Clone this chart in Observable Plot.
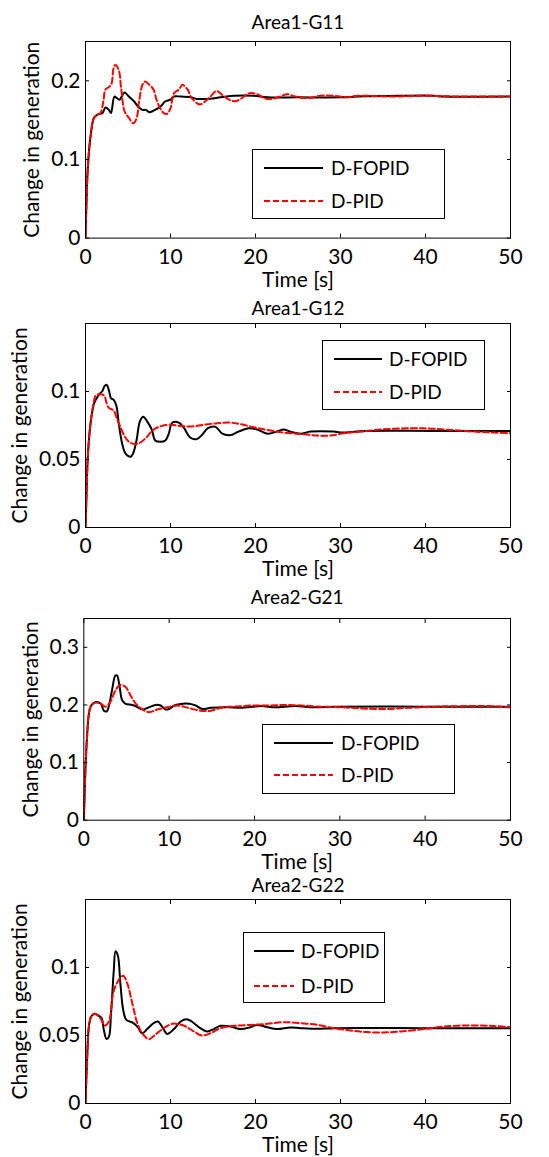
<!DOCTYPE html>
<html><head><meta charset="utf-8">
<script src="https://cdn.jsdelivr.net/npm/d3@7"></script>
<script src="https://cdn.jsdelivr.net/npm/@observablehq/plot@0.6"></script>
<style>
body{margin:0;background:#fff;font-family:Lato,sans-serif;}
#root{position:relative;width:549px;height:1157px;overflow:hidden;background:#fff;}
.pl{position:absolute;left:0;}
.leg{position:absolute;box-sizing:border-box;border:1.5px solid #000;background:#fff;}
.leg span{position:absolute;font-size:19px;line-height:1;color:#000;transform:translateY(-52%);white-space:nowrap;font-family:Lato,sans-serif}
.leg svg{position:absolute;left:0;top:0;overflow:visible}
</style></head><body><div id="root"></div>
<script>
const seriesNames = ["D-FOPID", "D-PID"];
const seriesColors = ["#000000", "#ff0000"];
const seriesDash = [null, "6,3"];
const xTicks = [0, 10, 20, 30, 40, 50];
const panelTitles = ["Area1-G11", "Area1-G12", "Area2-G21", "Area2-G22"];
const yDomains = [[0, 0.25], [0, 0.15], [0, 0.35], [0, 0.15]];
const yTicks = [[0, 0.1, 0.2], [0, 0.05, 0.1], [0, 0.1, 0.2, 0.3], [0, 0.05, 0.1]];

// [time s, change in generation]
const g11Fopid = [[0,0],[0.1,0.04],[0.27,0.089],[0.6,0.13],[1.0,0.153],[1.4,0.157],[2.0,0.159],[2.35,0.166],[2.75,0.163],[3.0,0.159],[3.4,0.18],[3.7,0.178],[4.0,0.176],[4.6,0.185],[5.1,0.18],[5.7,0.174],[6.2,0.167],[6.7,0.163],[7.1,0.163],[7.5,0.16],[8.0,0.162],[8.8,0.167],[9.4,0.174],[10,0.176],[10.4,0.18],[11.2,0.18],[12.4,0.179],[13.1,0.177],[14.3,0.177],[15.9,0.179],[17.5,0.181],[19.8,0.181],[21.4,0.179],[25,0.179],[30,0.179],[32,0.18],[37,0.181],[41,0.181],[42,0.18],[50,0.18]];
const g11Pid = [[0,0],[0.1,0.04],[0.27,0.089],[0.6,0.13],[1.0,0.153],[1.4,0.157],[1.76,0.159],[2.1,0.174],[2.35,0.189],[2.75,0.192],[3.05,0.196],[3.3,0.216],[3.5,0.22],[3.9,0.214],[4.2,0.19],[4.6,0.161],[5.1,0.153],[5.6,0.146],[6.0,0.152],[6.3,0.174],[6.7,0.195],[7.0,0.199],[7.5,0.195],[8.0,0.189],[8.35,0.176],[8.75,0.166],[9.2,0.159],[9.6,0.158],[10.0,0.165],[10.4,0.184],[11.0,0.189],[11.4,0.195],[12.0,0.189],[12.5,0.178],[13.45,0.170],[14.1,0.174],[14.7,0.18],[15.4,0.187],[16.1,0.182],[16.9,0.176],[17.6,0.174],[18.4,0.178],[19.2,0.184],[20.2,0.183],[21.0,0.178],[22.0,0.177],[23.1,0.181],[23.7,0.183],[24.7,0.18],[26.1,0.178],[27.6,0.181],[29.2,0.181],[30.8,0.179],[32.0,0.181],[36,0.18],[40,0.181],[44,0.18],[50,0.18]];
const g12Fopid = [[0,0],[0.1,0.02],[0.27,0.052],[0.6,0.077],[1.0,0.091],[1.4,0.096],[1.76,0.099],[1.96,0.1],[2.24,0.104],[2.47,0.105],[2.75,0.101],[3.0,0.095],[3.3,0.094],[3.65,0.089],[3.9,0.077],[4.3,0.062],[4.7,0.0545],[5.3,0.052],[5.6,0.0545],[6.0,0.064],[6.4,0.078],[6.8,0.0815],[7.25,0.078],[7.8,0.072],[8.2,0.064],[8.8,0.063],[9.4,0.064],[9.8,0.069],[10.2,0.077],[11.0,0.077],[11.6,0.073],[12.35,0.066],[13.1,0.065],[13.7,0.068],[14.4,0.073],[15.3,0.074],[16.1,0.069],[17.1,0.068],[18.0,0.0705],[19.2,0.073],[20.2,0.072],[21.4,0.069],[22.5,0.0705],[23.3,0.072],[24.1,0.0705],[25.3,0.069],[26.5,0.0705],[29.2,0.0705],[30.0,0.0698],[33.1,0.071],[41,0.071],[50,0.071]];
const g12Pid = [[0,0],[0.1,0.02],[0.27,0.052],[0.6,0.077],[1.0,0.093],[1.2,0.097],[1.76,0.098],[2.2,0.097],[2.5,0.091],[2.75,0.088],[3.3,0.086],[3.7,0.080],[4.1,0.074],[4.6,0.067],[5.1,0.063],[5.7,0.0615],[6.3,0.062],[7.05,0.0655],[8.0,0.072],[9.0,0.0747],[10,0.0755],[11.2,0.0747],[12.35,0.0742],[13.9,0.0755],[15.5,0.0767],[16.9,0.0772],[18.2,0.076],[19.8,0.0737],[21.4,0.0717],[23.3,0.0698],[25.3,0.0688],[27.3,0.0676],[28.8,0.0676],[30.4,0.0693],[32.4,0.0705],[35.1,0.0722],[38.2,0.073],[40.6,0.0727],[43,0.0717],[45.7,0.0705],[48,0.0698],[50,0.0693]];
const g21Fopid = [[0,0],[0.2,0.092],[0.4,0.15],[0.6,0.185],[0.86,0.199],[1.4,0.205],[2.0,0.202],[2.35,0.19],[2.7,0.189],[2.9,0.196],[3.3,0.225],[3.7,0.251],[3.9,0.251],[4.2,0.231],[4.5,0.208],[4.9,0.202],[5.7,0.2],[6.3,0.196],[6.9,0.192],[7.65,0.196],[8.4,0.2],[9.0,0.199],[9.6,0.192],[10.0,0.193],[10.6,0.199],[11.6,0.202],[12.35,0.202],[13.1,0.199],[13.9,0.193],[14.9,0.195],[16.9,0.196],[18.4,0.195],[20.8,0.198],[22.4,0.196],[24.7,0.198],[27.1,0.196],[29.4,0.197],[40,0.197],[50,0.197]];
const g21Pid = [[0,0],[0.2,0.092],[0.4,0.15],[0.6,0.185],[0.86,0.199],[1.4,0.204],[2.0,0.202],[2.55,0.197],[3.1,0.205],[3.7,0.225],[4.3,0.235],[4.9,0.231],[5.5,0.216],[6.1,0.202],[6.9,0.192],[7.65,0.1875],[8.6,0.192],[9.8,0.196],[11.0,0.199],[12.2,0.195],[13.7,0.19],[14.9,0.19],[16.3,0.196],[17.6,0.197],[19.6,0.199],[21.6,0.199],[23.5,0.2],[25.5,0.199],[27.8,0.197],[30.2,0.196],[32.5,0.194],[35.3,0.193],[38,0.195],[41.2,0.197],[45.1,0.198],[47.5,0.198],[50,0.196]];
const g22Fopid = [[0,0],[0.2,0.0346],[0.4,0.0566],[0.67,0.064],[1.06,0.066],[1.57,0.0645],[1.9,0.0627],[2.16,0.054],[2.47,0.0475],[2.75,0.049],[3.0,0.066],[3.33,0.098],[3.53,0.112],[3.8,0.109],[4.1,0.0885],[4.43,0.069],[4.8,0.0615],[5.5,0.0596],[6.1,0.0566],[6.67,0.0517],[7.25,0.0547],[8.0,0.059],[8.5,0.0603],[9.0,0.0566],[9.6,0.0512],[10.4,0.0547],[11.2,0.0603],[11.9,0.062],[12.5,0.0603],[13.5,0.0554],[14.3,0.053],[15.1,0.0547],[15.9,0.0571],[17.1,0.0566],[18.2,0.0547],[19.4,0.0561],[20.2,0.0578],[21.4,0.0561],[22.5,0.0547],[24.1,0.0559],[25.3,0.0554],[27.3,0.0549],[29.2,0.0554],[40,0.0554],[50,0.0554]];
const g22Pid = [[0,0],[0.2,0.0346],[0.4,0.0566],[0.67,0.064],[1.06,0.066],[1.76,0.0627],[2.24,0.0573],[2.75,0.0603],[3.25,0.081],[3.8,0.0897],[4.43,0.0939],[4.9,0.0885],[5.5,0.0738],[6.1,0.059],[6.67,0.0517],[7.45,0.0473],[8.2,0.0505],[9.2,0.0554],[10.2,0.0586],[11.0,0.0583],[11.8,0.0566],[12.75,0.053],[13.7,0.05],[14.7,0.0517],[15.9,0.0554],[17.5,0.0571],[19.4,0.0578],[21.4,0.0586],[23.3,0.0598],[25.3,0.0591],[27.3,0.0578],[29.2,0.0554],[31.2,0.0537],[33.1,0.0525],[35.1,0.0522],[37.1,0.053],[39.8,0.0547],[42.2,0.0566],[44.9,0.0574],[47.6,0.0571],[50,0.0561]];

const panelSeries = [[g11Fopid, g11Pid], [g12Fopid, g12Pid], [g21Fopid, g21Pid], [g22Fopid, g22Pid]];

// layout (pixels)
const layout = [
  {top: 40.7, bottom: 237.3, left: 85, titleDy: -19, yLabelDx: -53, leg: {x: 252, y: 149, w: 193, h: 70, l1: 11, l2: 70, tx: 78, r1: 18, r2: 51}},
  {top: 323.3, bottom: 527.3, left: 85, titleDy: -15, yLabelDx: -65, leg: {x: 322, y: 340, w: 163, h: 70, l1: 11, l2: 59, tx: 66, r1: 18, r2: 51}},
  {top: 618.3, bottom: 820, left: 83.3, titleDy: -21, yLabelDx: -53, leg: {x: 262, y: 724, w: 193, h: 70, l1: 11, l2: 70, tx: 78, r1: 18, r2: 50}},
  {top: 899.3, bottom: 1103.3, left: 85, titleDy: -14, yLabelDx: -65, leg: {x: 243, y: 932, w: 142, h: 71, l1: 10, l2: 50, tx: 57, r1: 18, r2: 53}}
];
const frameRight = 510;
const W = 549;
const root = document.getElementById("root");
const font = "Lato, sans-serif";
const fmt = d => String(d);

panelTitles.forEach((title, i) => {
  const L = layout[i];
  const mt = 41, mb = 60;
  const h = (L.bottom - L.top) + mt + mb;
  const lines = panelSeries[i].map((s, k) => Plot.line(s, {
    x: d => d[0], y: d => d[1], stroke: seriesColors[k], strokeWidth: 2,
    strokeDasharray: seriesDash[k], curve: "catmull-rom", clip: true
  }));
  const chart = Plot.plot({
    width: W, height: h,
    marginTop: mt, marginBottom: mb, marginLeft: L.left, marginRight: W - frameRight,
    style: {fontFamily: font, fontSize: "21px", background: "transparent", overflow: "visible", color: "black"},
    x: {domain: [0, 50]},
    y: {domain: yDomains[i]},
    marks: [
      ...lines,
      Plot.frame({stroke: "black", strokeWidth: 1}),
      Plot.axisX(xTicks, {anchor: "bottom", tickSize: -4, tickPadding: 15, tickFormat: fmt, label: null, fontSize: 21}),
      Plot.axisX(xTicks, {anchor: "top", tickSize: -4, tickFormat: () => "", label: null}),
      Plot.axisY(yTicks[i], {anchor: "left", tickSize: -4, tickPadding: 9, tickFormat: fmt, label: null, fontSize: 21}),
      Plot.axisY(yTicks[i], {anchor: "right", tickSize: -4, tickFormat: () => "", label: null}),
      Plot.text([title], {frameAnchor: "top", dy: L.titleDy, lineAnchor: "middle", textAnchor: "middle", fontSize: 19, text: d => d}),
      Plot.text(["Time [s]"], {frameAnchor: "bottom", dy: 42, lineAnchor: "middle", textAnchor: "middle", fontSize: 21, text: d => d}),
      Plot.text(["Change in generation"], {frameAnchor: "left", dx: L.yLabelDx, rotate: -90, lineAnchor: "middle", textAnchor: "middle", fontSize: 21, text: d => d})
    ]
  });
  chart.classList.add("pl");
  chart.style.top = (L.top - mt) + "px";
  root.appendChild(chart);

  // legend
  const g = L.leg;
  const box = document.createElement("div");
  box.className = "leg";
  Object.assign(box.style, {left: g.x + "px", top: g.y + "px", width: g.w + "px", height: g.h + "px"});
  const svg = d3.create("svg").attr("width", g.w).attr("height", g.h);
  seriesNames.forEach((name, k) => {
    const ry = k === 0 ? g.r1 : g.r2;
    svg.append("line").attr("x1", g.l1).attr("x2", g.l2).attr("y1", ry).attr("y2", ry)
      .attr("stroke", seriesColors[k]).attr("stroke-width", 2)
      .attr("stroke-dasharray", seriesDash[k]);
    const sp = document.createElement("span");
    sp.textContent = name;
    sp.style.left = g.tx + "px";
    sp.style.top = ry + "px";
    box.appendChild(sp);
  });
  box.appendChild(svg.node());
  root.appendChild(box);
});
</script></body></html>
